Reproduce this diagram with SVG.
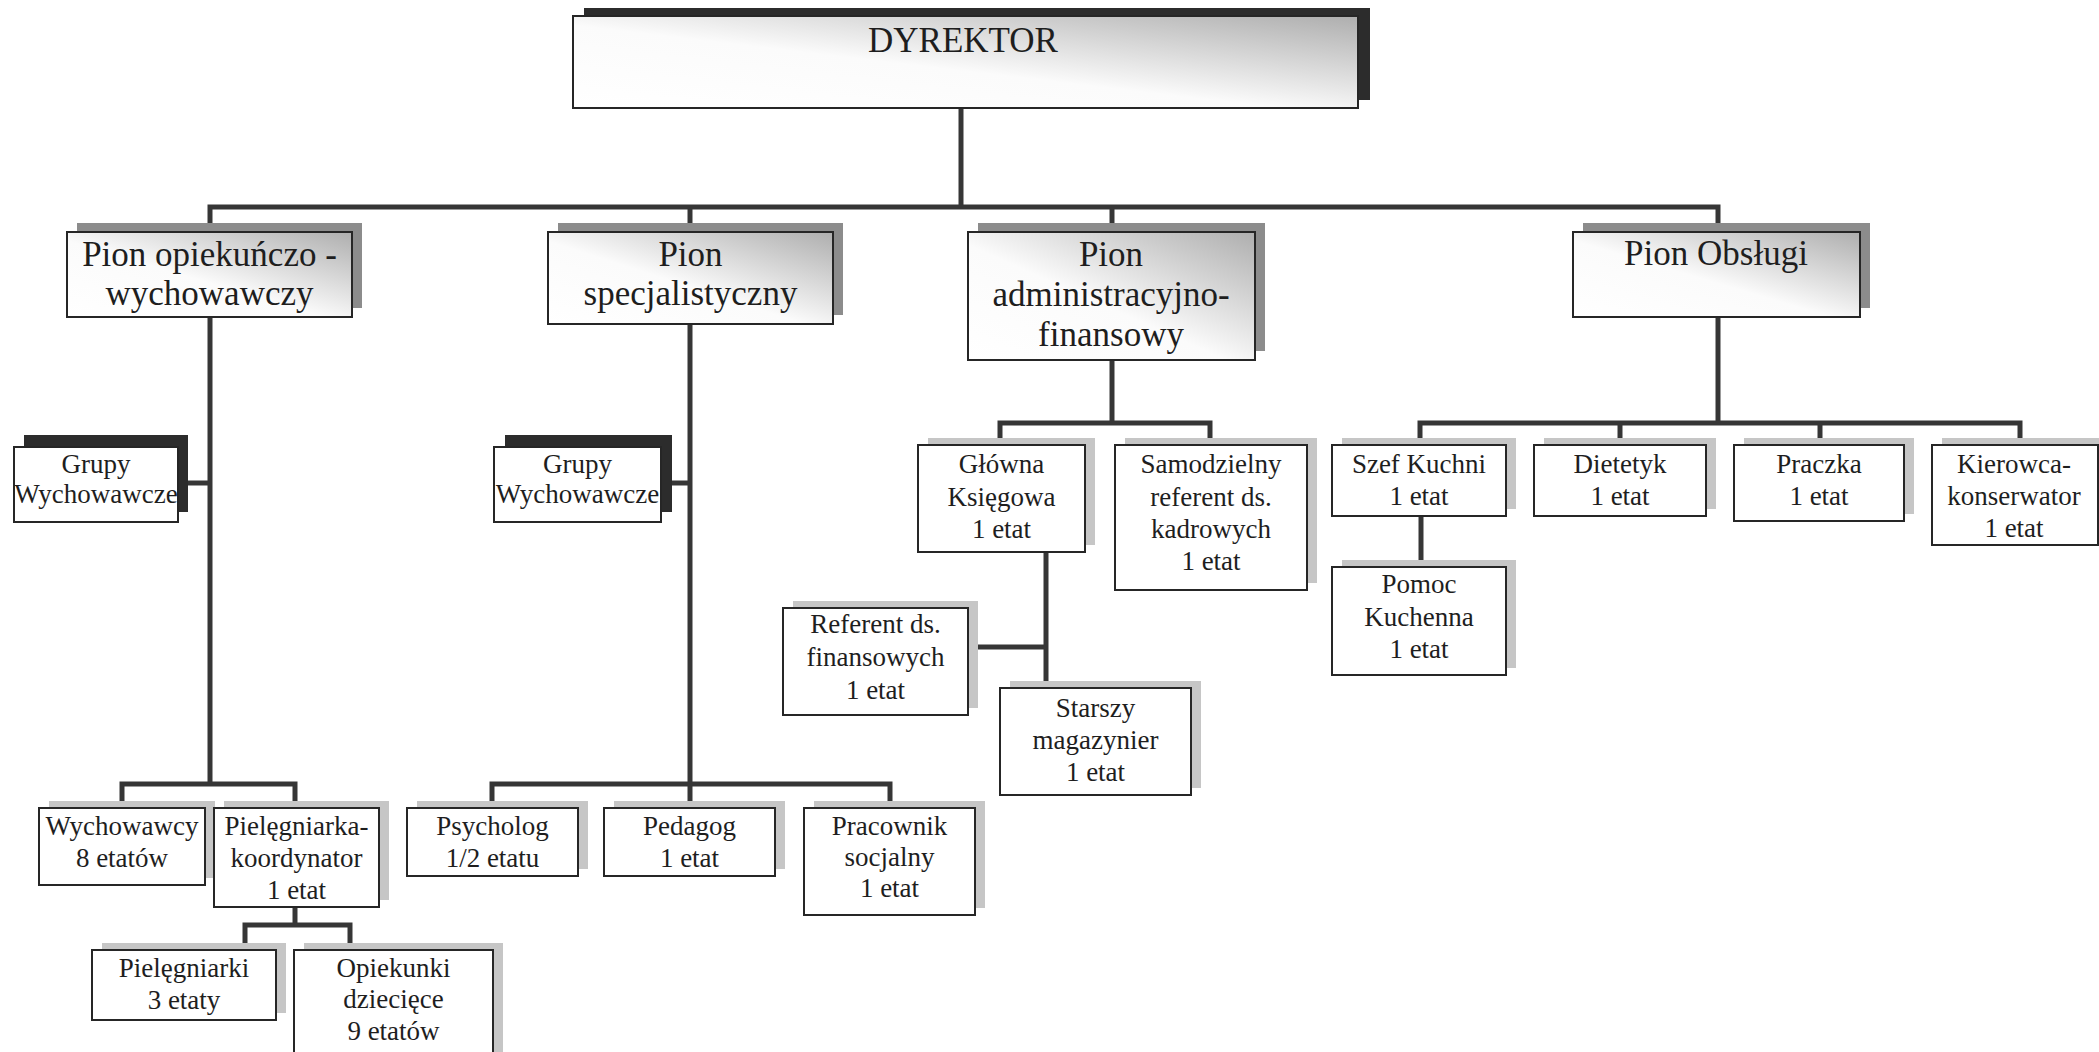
<svg xmlns="http://www.w3.org/2000/svg" width="2099" height="1052" viewBox="0 0 2099 1052">
<defs>
<linearGradient id="g" x1="0" y1="1" x2="1" y2="0">
<stop offset="0" stop-color="#ffffff"/>
<stop offset="0.45" stop-color="#fbfbfb"/>
<stop offset="1" stop-color="#aeaeae"/>
</linearGradient>
<style>
.t{font-family:"Liberation Serif","Times New Roman",serif;fill:#1e1e1e;text-anchor:middle}
.big{font-size:35px}
.sm{font-size:27px}
.box{fill:#fff;stroke:#262626;stroke-width:2}
.gbox{fill:url(#g);stroke:#262626;stroke-width:2}
.shd{fill:#2c2c2c}
.shm{fill:#8c8c8c}
.shl{fill:#c6c6c6}
.ln{fill:none;stroke:#363636;stroke-width:5}
</style>
</defs>
<rect width="2099" height="1052" fill="#fff"/>
<g id="connectors">
<path class="ln" d="M961,108 V207"/>
<path class="ln" d="M210,232 V207 H1718 V232"/>
<path class="ln" d="M690,207 V232"/>
<path class="ln" d="M1112,207 V232"/>
<path class="ln" d="M210,317 V784"/>
<path class="ln" d="M178,483 H210"/>
<path class="ln" d="M122,808 V784 H295 V808"/>
<path class="ln" d="M295,907 V925"/>
<path class="ln" d="M245,950 V925 H350 V950"/>
<path class="ln" d="M690,324 V808"/>
<path class="ln" d="M661,483 H690"/>
<path class="ln" d="M492,808 V784 H890 V808"/>
<path class="ln" d="M1112,360 V423"/>
<path class="ln" d="M1000,445 V423 H1210 V445"/>
<path class="ln" d="M1046,552 V688"/>
<path class="ln" d="M968,647 H1046"/>
<path class="ln" d="M1718,317 V423"/>
<path class="ln" d="M1420,445 V423 H2020 V445"/>
<path class="ln" d="M1620,423 V445"/>
<path class="ln" d="M1820,423 V445"/>
<path class="ln" d="M1421,516 V567"/>
</g>
<g id="dyrektor">
<rect class="shd" x="584" y="8" width="786" height="92"/>
<rect class="gbox" x="573" y="16" width="785" height="92"/>
<text class="t big" x="963" y="52">DYREKTOR</text>
</g>
<g id="pion-opiekunczo">
<rect class="shm" x="77" y="223" width="285" height="85"/>
<rect class="gbox" x="67" y="232" width="285" height="85"/>
<text class="t big" x="209.5" y="266">Pion opiekuńczo -</text>
<text class="t big" x="209.5" y="305">wychowawczy</text>
</g>
<g id="pion-specjalistyczny">
<rect class="shm" x="558" y="223" width="285" height="92"/>
<rect class="gbox" x="548" y="232" width="285" height="92"/>
<text class="t big" x="690.5" y="266">Pion</text>
<text class="t big" x="690.5" y="305">specjalistyczny</text>
</g>
<g id="pion-administracyjny">
<rect class="shm" x="978" y="223" width="287" height="128"/>
<rect class="gbox" x="968" y="232" width="287" height="128"/>
<text class="t big" x="1111" y="266">Pion</text>
<text class="t big" x="1111" y="306">administracyjno-</text>
<text class="t big" x="1111" y="346">finansowy</text>
</g>
<g id="pion-obslugi">
<rect class="shm" x="1583" y="223" width="287" height="85"/>
<rect class="gbox" x="1573" y="232" width="287" height="85"/>
<text class="t big" x="1716" y="265">Pion Obsługi</text>
</g>
<g id="grupy-1">
<rect class="shd" x="24" y="435" width="164" height="77"/>
<rect class="box" x="14" y="447" width="164" height="75"/>
<text class="t sm" x="96" y="473">Grupy</text>
<text class="t sm" x="96" y="503">Wychowawcze</text>
</g>
<g id="grupy-2">
<rect class="shd" x="505" y="435" width="167" height="77"/>
<rect class="box" x="494" y="447" width="167" height="75"/>
<text class="t sm" x="577.5" y="473">Grupy</text>
<text class="t sm" x="577.5" y="503">Wychowawcze</text>
</g>
<g id="wychowawcy">
<rect class="shl" x="49" y="801" width="166" height="77"/>
<rect class="box" x="39" y="808" width="166" height="77"/>
<text class="t sm" x="122" y="835">Wychowawcy</text>
<text class="t sm" x="122" y="867">8 etatów</text>
</g>
<g id="pielegniarka-koordynator">
<rect class="shl" x="224" y="801" width="165" height="99"/>
<rect class="box" x="214" y="808" width="165" height="99"/>
<text class="t sm" x="296.5" y="835">Pielęgniarka-</text>
<text class="t sm" x="296.5" y="867">koordynator</text>
<text class="t sm" x="296.5" y="899">1 etat</text>
</g>
<g id="pielegniarki">
<rect class="shl" x="102" y="943" width="184" height="70"/>
<rect class="box" x="92" y="950" width="184" height="70"/>
<text class="t sm" x="184" y="977">Pielęgniarki</text>
<text class="t sm" x="184" y="1009">3 etaty</text>
</g>
<g id="opiekunki">
<rect class="shl" x="304" y="943" width="199" height="115"/>
<rect class="box" x="294" y="950" width="199" height="115"/>
<text class="t sm" x="393.5" y="977">Opiekunki</text>
<text class="t sm" x="393.5" y="1008">dziecięce</text>
<text class="t sm" x="393.5" y="1040">9 etatów</text>
</g>
<g id="psycholog">
<rect class="shl" x="417" y="801" width="171" height="68"/>
<rect class="box" x="407" y="808" width="171" height="68"/>
<text class="t sm" x="492.5" y="835">Psycholog</text>
<text class="t sm" x="492.5" y="867">1/2 etatu</text>
</g>
<g id="pedagog">
<rect class="shl" x="614" y="801" width="171" height="68"/>
<rect class="box" x="604" y="808" width="171" height="68"/>
<text class="t sm" x="689.5" y="835">Pedagog</text>
<text class="t sm" x="689.5" y="867">1 etat</text>
</g>
<g id="pracownik-socjalny">
<rect class="shl" x="814" y="801" width="171" height="107"/>
<rect class="box" x="804" y="808" width="171" height="107"/>
<text class="t sm" x="889.5" y="835">Pracownik</text>
<text class="t sm" x="889.5" y="866">socjalny</text>
<text class="t sm" x="889.5" y="897">1 etat</text>
</g>
<g id="glowna-ksiegowa">
<rect class="shl" x="928" y="438" width="167" height="107"/>
<rect class="box" x="918" y="445" width="167" height="107"/>
<text class="t sm" x="1001.5" y="473">Główna</text>
<text class="t sm" x="1001.5" y="506">Księgowa</text>
<text class="t sm" x="1001.5" y="538">1 etat</text>
</g>
<g id="samodzielny-referent">
<rect class="shl" x="1125" y="438" width="192" height="145"/>
<rect class="box" x="1115" y="445" width="192" height="145"/>
<text class="t sm" x="1211" y="473">Samodzielny</text>
<text class="t sm" x="1211" y="506">referent ds.</text>
<text class="t sm" x="1211" y="538">kadrowych</text>
<text class="t sm" x="1211" y="570">1 etat</text>
</g>
<g id="referent-finansowy">
<rect class="shl" x="793" y="601" width="185" height="107"/>
<rect class="box" x="783" y="608" width="185" height="107"/>
<text class="t sm" x="875.5" y="633">Referent ds.</text>
<text class="t sm" x="875.5" y="666">finansowych</text>
<text class="t sm" x="875.5" y="699">1 etat</text>
</g>
<g id="starszy-magazynier">
<rect class="shl" x="1010" y="681" width="191" height="107"/>
<rect class="box" x="1000" y="688" width="191" height="107"/>
<text class="t sm" x="1095.5" y="717">Starszy</text>
<text class="t sm" x="1095.5" y="749">magazynier</text>
<text class="t sm" x="1095.5" y="781">1 etat</text>
</g>
<g id="szef-kuchni">
<rect class="shl" x="1342" y="438" width="174" height="71"/>
<rect class="box" x="1332" y="445" width="174" height="71"/>
<text class="t sm" x="1419" y="473">Szef Kuchni</text>
<text class="t sm" x="1419" y="505">1 etat</text>
</g>
<g id="dietetyk">
<rect class="shl" x="1544" y="438" width="172" height="71"/>
<rect class="box" x="1534" y="445" width="172" height="71"/>
<text class="t sm" x="1620" y="473">Dietetyk</text>
<text class="t sm" x="1620" y="505">1 etat</text>
</g>
<g id="praczka">
<rect class="shl" x="1744" y="438" width="170" height="76"/>
<rect class="box" x="1734" y="445" width="170" height="76"/>
<text class="t sm" x="1819" y="473">Praczka</text>
<text class="t sm" x="1819" y="505">1 etat</text>
</g>
<g id="kierowca">
<rect class="shl" x="1942" y="438" width="165" height="100"/>
<rect class="box" x="1932" y="445" width="166" height="100"/>
<text class="t sm" x="2014" y="473">Kierowca-</text>
<text class="t sm" x="2014" y="505">konserwator</text>
<text class="t sm" x="2014" y="537">1 etat</text>
</g>
<g id="pomoc-kuchenna">
<rect class="shl" x="1342" y="560" width="174" height="108"/>
<rect class="box" x="1332" y="567" width="174" height="108"/>
<text class="t sm" x="1419" y="593">Pomoc</text>
<text class="t sm" x="1419" y="626">Kuchenna</text>
<text class="t sm" x="1419" y="658">1 etat</text>
</g>
</svg>
